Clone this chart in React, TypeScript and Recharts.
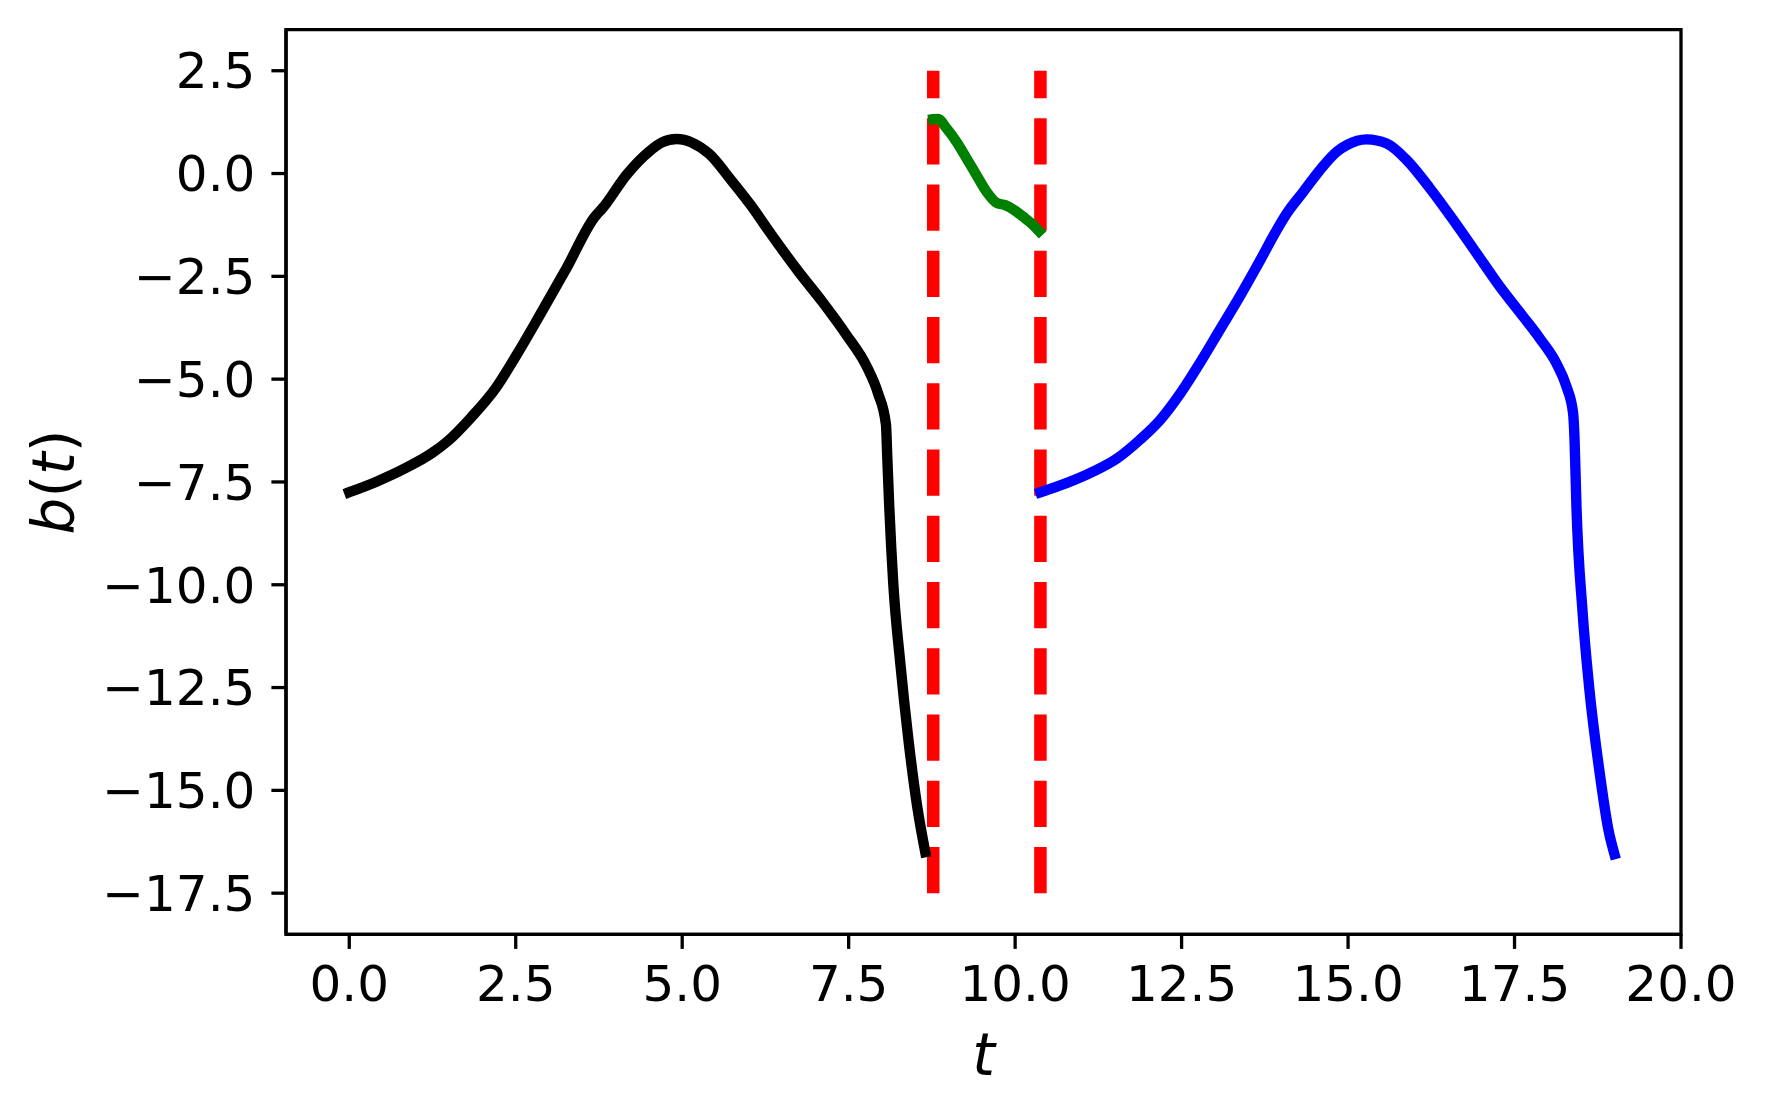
import { LineChart, Line, XAxis, YAxis, ReferenceLine, ReferenceArea } from "recharts";

// first period (black)
const blackT = [0, 0.4, 0.85, 1.24, 1.47, 1.83, 2.19, 2.51, 2.87, 3.26, 3.68, 3.81, 4.17, 4.5, 4.69, 4.92, 5.15, 5.41, 5.73, 6.03, 6.32, 6.74, 7.1, 7.46, 7.78, 7.94, 8.06, 8.08, 8.11, 8.17, 8.27, 8.4, 8.53, 8.65];
const blackB = [-7.75, -7.5, -7.16, -6.8, -6.52, -5.93, -5.24, -4.42, -3.42, -2.31, -1.07, -0.83, -0.02, 0.53, 0.75, 0.84, 0.75, 0.47, -0.15, -0.77, -1.44, -2.37, -3.11, -3.91, -4.72, -5.34, -6.1, -6.9, -8.11, -9.97, -11.82, -13.8, -15.4, -16.5];

// switching phase (green)
const greenT = [8.77, 8.84, 8.97, 9.12, 9.27, 9.42, 9.57, 9.72, 9.85, 9.97, 10.12, 10.27, 10.36];
const greenB = [1.32, 1.33, 1.1, 0.77, 0.37, -0.04, -0.44, -0.71, -0.77, -0.87, -1.05, -1.25, -1.4];

// second period (blue)
const blueT = [10.38, 10.77, 11.17, 11.53, 11.87, 12.18, 12.48, 12.77, 13.07, 13.37, 13.67, 13.93, 14.08, 14.33, 14.58, 14.83, 14.98, 15.28, 15.58, 15.88, 16.23, 16.58, 16.93, 17.28, 17.63, 17.88, 18.13, 18.28, 18.38, 18.4, 18.43, 18.52, 18.62, 18.78, 18.91, 19.0];
const blueB = [-7.75, -7.53, -7.25, -6.93, -6.48, -5.99, -5.35, -4.62, -3.81, -3.0, -2.14, -1.37, -0.97, -0.44, 0.09, 0.53, 0.69, 0.83, 0.73, 0.33, -0.36, -1.13, -1.94, -2.75, -3.48, -4.01, -4.62, -5.18, -5.83, -6.4, -8.1, -10.62, -12.48, -14.59, -15.96, -16.55];

// switching instants (red dashed lines)
const switchTimes = [8.77, 10.38];
const switchRange = [-17.5, 2.5];

const xTicks = [0, 2.5, 5, 7.5, 10, 12.5, 15, 17.5, 20];
const yTicks = [2.5, 0, -2.5, -5, -7.5, -10, -12.5, -15, -17.5];
const xDomain = [-0.95, 20];
const yDomain = [-18.5, 3.5];

const zip = (ts: number[], bs: number[]) => ts.map((t, i) => ({ t, b: bs[i] }));

const blackData = zip(blackT, blackB);
const greenData = zip(greenT, greenB);
const blueData = zip(blueT, blueB);

const FONT = "DejaVu Sans";
const tickStyle = { fill: "#000", fontSize: 50, fontFamily: FONT };
const spine = { stroke: "#000", strokeWidth: 3.3 };

const fmt = (v: number) => v.toFixed(1).replace("-", "\u2212");

const lineStyle = {
  type: "monotoneX" as const,
  strokeWidth: 10.4,
  strokeLinecap: "square" as const,
  strokeLinejoin: "round" as const,
  dot: false,
  isAnimationActive: false,
};

export default function App() {
  return (
    <LineChart
      width={1750}
      height={1100}
      margin={{ top: 21.6, right: 77, bottom: 52.7, left: 78 }}
    >
      <XAxis
        type="number"
        dataKey="t"
        domain={xDomain}
        ticks={xTicks}
        allowDataOverflow
        tickFormatter={fmt}
        tick={tickStyle}
        tickSize={14.6}
        tickMargin={17}
        axisLine={spine}
        tickLine={spine}
        height={121}
        label={(p: any) => {
          const vb = p.viewBox || {};
          return (
            <text
              x={vb.x + vb.width / 2}
              y={1067}
              textAnchor="middle"
              fontFamily={FONT}
              fontSize={58}
              fontStyle="italic"
              fill="#000"
            >
              t
            </text>
          );
        }}
      />
      <YAxis
        type="number"
        dataKey="b"
        domain={yDomain}
        ticks={yTicks}
        allowDataOverflow
        tickFormatter={fmt}
        tick={tickStyle}
        tickSize={14.6}
        tickMargin={16}
        axisLine={spine}
        tickLine={spine}
        width={200}
        label={(p: any) => {
          const vb = p.viewBox || {};
          const cy = vb.y + vb.height / 2;
          return (
            <text
              x={66}
              y={cy}
              textAnchor="middle"
              fontFamily={FONT}
              fontSize={58}
              fill="#000"
              transform={`rotate(-90, 66, ${cy})`}
            >
              <tspan fontStyle="italic">b</tspan>
              <tspan>(</tspan>
              <tspan fontStyle="italic">t</tspan>
              <tspan>)</tspan>
            </text>
          );
        }}
      />
      <ReferenceArea
        x1={xDomain[0]}
        x2={xDomain[1]}
        y1={yDomain[0]}
        y2={yDomain[1]}
        fill="none"
        fillOpacity={0}
        stroke="#000"
        strokeWidth={3.3}
      />
      {switchTimes.map((x) => (
        <ReferenceLine
          key={x}
          segment={[
            { x, y: switchRange[0] },
            { x, y: switchRange[1] },
          ]}
          stroke="#ff0000"
          strokeWidth={12.5}
          strokeDasharray="46.25 20"
        />
      ))}
      <Line data={blackData} dataKey="b" stroke="#000000" {...lineStyle} />
      <Line data={greenData} dataKey="b" stroke="#008000" {...lineStyle} />
      <Line data={blueData} dataKey="b" stroke="#0000ff" {...lineStyle} />
    </LineChart>
  );
}
